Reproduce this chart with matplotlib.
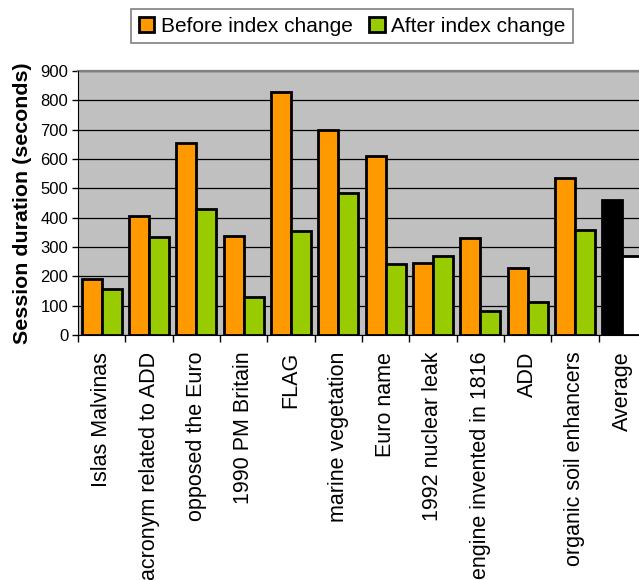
import numpy as np
import matplotlib.pyplot as plt

plt.rcParams['font.family'] = ['Liberation Sans', 'DejaVu Sans']

queries = ["Islas Malvinas", "acronym related to ADD", "opposed the Euro",
           "1990 PM Britain", "FLAG", "marine vegetation", "Euro name",
           "1992 nuclear leak", "engine invented in 1816", "ADD",
           "organic soil enhancers", "Average"]
before = [192, 404, 654, 339, 827, 698, 609, 247, 330, 230, 535, 461]
after = [157, 334, 430, 130, 353, 484, 241, 269, 82, 112, 359, 268]

before_colors = ["#FF9900"] * 11 + ["#000000"]
after_colors = ["#99CC00"] * 11 + ["#FFFFFF"]

fig = plt.figure(figsize=(6.39, 5.8), dpi=100)
# the plot area runs a little past the right edge of the picture, as in the original
ax = fig.add_axes([78 / 639, 1 - 335 / 580, 568 / 639, 264 / 580])
ax.set_facecolor("#C0C0C0")

x = np.arange(len(queries))
w = 0.42
b1 = ax.bar(x - w / 2, before, w, color=before_colors, edgecolor="black",
            linewidth=2.0, zorder=3, label="Before index change")
b2 = ax.bar(x + w / 2, after, w, color=after_colors, edgecolor="black",
            linewidth=2.0, zorder=3, label="After index change")

ax.set_xlim(-0.5, len(queries) - 0.5)
ax.set_ylim(0, 900)
ax.set_yticks(range(0, 901, 100))
ax.yaxis.grid(True, color="black", linewidth=0.9, zorder=1)
ax.tick_params(axis="y", labelsize=12, length=4, width=1, direction="out", pad=3)

ax.set_xticks(x)
ax.set_xticklabels(queries, rotation=90, fontsize=15.5, va="top")
ax.tick_params(axis="x", length=0, pad=12)
ax.set_xticks(np.arange(len(queries) + 1) - 0.5, minor=True)
ax.tick_params(axis="x", which="minor", length=5, width=1, color="black")

ax.spines["right"].set_visible(False)
ax.spines["top"].set_color("#808080")
ax.spines["top"].set_linewidth(1.6)
ax.spines["left"].set_color("black")
ax.spines["bottom"].set_color("black")
ax.spines["left"].set_zorder(4)

ax.set_ylabel("Session duration (seconds)", fontsize=15.4, fontweight="bold", labelpad=6)

leg = fig.legend(handles=[b1[0], b2[0]], labels=["Before index change", "After index change"],
                 loc="center", bbox_to_anchor=(352 / 639, 1 - 26 / 580), ncol=2,
                 fontsize=15, frameon=True, fancybox=False, handlelength=0.75,
                 handleheight=0.75, handletextpad=0.3, columnspacing=0.8,
                 borderpad=0.35, borderaxespad=0)
leg.get_frame().set_edgecolor("#606060")
leg.get_frame().set_linewidth(1.2)

fig.savefig("out.png", dpi=100)
